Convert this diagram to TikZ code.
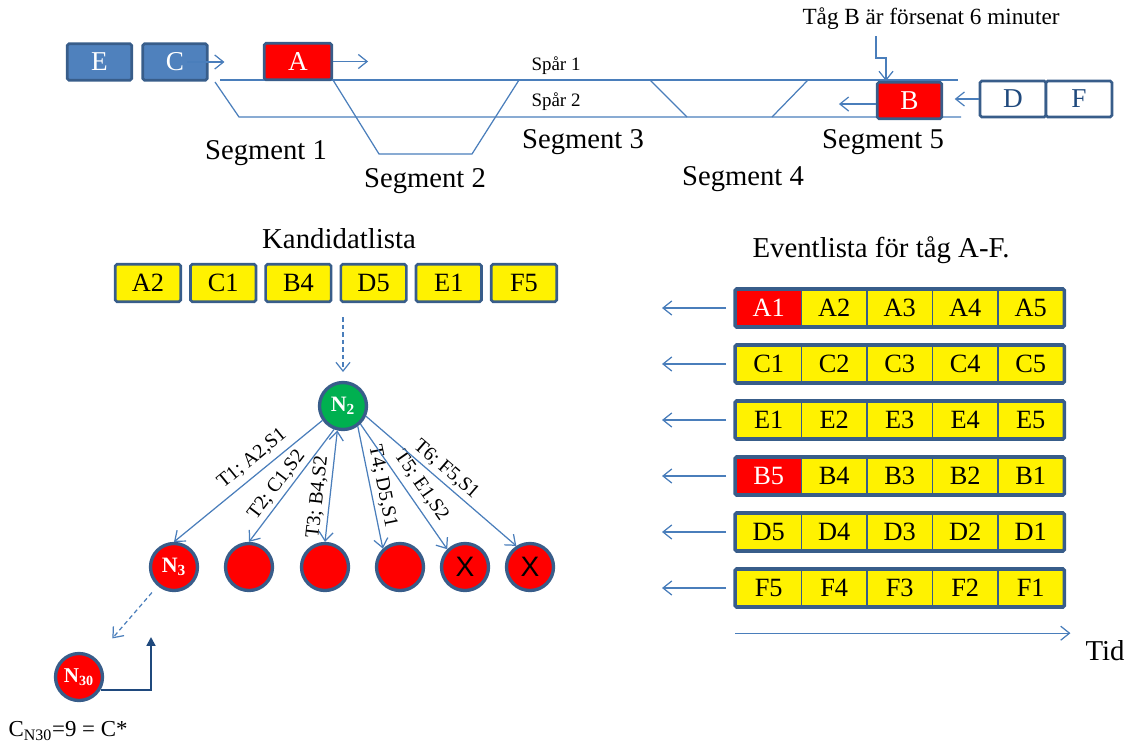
\documentclass[tikz,border=0pt]{standalone}
\usepackage{fontspec}
\setmainfont{Liberation Serif}
\setsansfont{Liberation Sans}
\usepackage{xcolor}
\usetikzlibrary{arrows.meta, positioning, calc}
\definecolor{trackblue}{HTML}{4A7EBB}
\definecolor{rimblue}{HTML}{385D8A}
\definecolor{boxblue}{HTML}{4F81BD}
\definecolor{navyblue}{HTML}{1F497D}
\definecolor{nodegreen}{HTML}{00B050}

\begin{document}
\begin{tikzpicture}[x=0.02cm, y=-0.02cm,
  >={Straight Barb[length=5pt,width=8pt]},
  track/.style={trackblue, line width=0.7pt},
  dashline/.style={track, dash pattern=on 2.5pt off 1.8pt},
  title/.style={font=\rmfamily\fontsize{16.4}{19}\selectfont},
  seg/.style={font=\rmfamily\fontsize{16.3}{19}\selectfont},
  train/.style={draw=rimblue, line width=1.5pt, rounded corners=1pt,
    minimum width=1.29cm, minimum height=0.73cm, inner sep=0pt,
    font=\rmfamily\fontsize{15.5}{18}\selectfont},
  cand/.style={draw=rimblue, fill=yellow, line width=1.5pt, rounded corners=1pt,
    minimum width=1.31cm, minimum height=0.75cm, inner sep=0pt,
    font=\rmfamily\fontsize{15}{17}\selectfont},
  ev/.style={draw=rimblue, fill=yellow, line width=1.1pt,
    minimum width=1.31cm, minimum height=0.73cm, inner sep=0pt,
    font=\rmfamily\fontsize{15}{17}\selectfont},
  late/.style={ev, fill=red, text=white},
  tnode/.style={circle, draw=rimblue, line width=1.9pt, minimum size=0.94cm,
    inner sep=0pt, text=white, font=\rmfamily\fontsize{12.5}{14}\selectfont\bfseries},
  cross/.style={tnode, text=black, font=\sffamily\fontsize{16}{18}\selectfont},
  elabel/.style={sloped, above, inner sep=2pt, text=black,
    font=\rmfamily\fontsize{11.3}{13}\selectfont}
]
  \useasboundingbox (0,0) rectangle (1129,747);

  % Tracks
  \draw[track] (220,80) -- (958,80);
  \draw[track] (215,82) -- (239,117) -- (961,117);
  \draw[track] (333,80) -- (379,154) -- (472,154) -- (519,80);
  \draw[track] (650,80) -- (687,117);
  \draw[track] (808,80) -- (772,117);
  \node[font=\fontsize{10.8}{12}\selectfont] (spar1) at (556,66) {Spår 1};
  \node[font=\fontsize{10.8}{12}\selectfont] (spar2) at (556,102) {Spår 2};

  % Trains
  \node[train, fill=boxblue, text=white] (E) at (99.5,62) {E};
  \node[train, fill=boxblue, text=white] (C) at (175,62) {C};
  \node[train, fill=red, text=white, minimum width=1.35cm] (A) at (298,61.5) {A};
  \node[train, fill=red, text=white] (B) at (909.5,100.5) {B};
  \node[train, fill=white, text=navyblue, minimum width=1.32cm,
    minimum height=0.72cm] (D) at (1013,99) {D};
  \node[train, fill=white, text=navyblue, minimum width=1.32cm,
    minimum height=0.72cm, right=-1.5pt of D] (F) {F};
  \draw[track, ->] ([xshift=-12pt]C.east) -- ++(37,0);
  \draw[track, ->] (A.east) -- ++(35,0);
  \draw[track, ->] ([yshift=-2pt]B.west) -- ++(-37,0);
  \draw[track, ->] (D.west) -- ++(-24,0);

  % Segments
  \node[seg] (seg1) at (266,153) {Segment 1};
  \node[seg] (seg2) at (425,181) {Segment 2};
  \node[seg] (seg3) at (583,142) {Segment 3};
  \node[seg] (seg4) at (743,179) {Segment 4};
  \node[seg] (seg5) at (883,142) {Segment 5};

  % Delay note
  \node[font=\fontsize{13.2}{15}\selectfont] (delay) at (931,19)
    {Tåg B är försenat 6 minuter};
  \coordinate (bin) at (886,81);
  \draw[track, ->] (delay.south -| B.west) |- ($(bin)+(0,-23)$) -- (bin);

  % Candidate list
  \node[title] (kand) at (339,239) {Kandidatlista};
  \foreach \lab [count=\i] in {A2,C1,B4,D5,E1,F5}
    \node[cand] (cand-\i) at ({148+75.2*(\i-1)},283) {\lab};

  % Search tree
  \node[tnode, fill=nodegreen] (n2) at (343,406) {N\textsubscript{2}};
  \draw[dashline, ->, shorten <=8pt, shorten >=5pt]
    (cand-4.south -| n2.north) -- (n2.north);
  \node[tnode, fill=red] (c1) at (174,567) {N\textsubscript{3}};
  \node[tnode, fill=red] (c2) at (249,567) {};
  \node[tnode, fill=red] (c3) at (325,567) {};
  \node[tnode, fill=red] (c4) at (400,567) {};
  \node[cross, fill=red] (c5) at (465,567) {X};
  \node[cross, fill=red] (c6) at (530,567) {X};

  \draw[track, ->] (n2.215) -- (c1.north)
    node[elabel, pos=0.41, inner sep=3.5pt] {T1; A2,S1};
  \draw[track, ->] (n2.249) -- (c2.north)
    node[elabel, pos=0.56] {T2; C1,S2};
  \draw[track, <->] (n2.257) -- (c3.north)
    node[elabel, pos=0.61] {T3; B4,S2};
  \draw[track, ->] (n2.306) -- (c4.133)
    node[elabel, pos=0.51] {T4; D5,S1};
  \draw[track, ->] (n2.314) -- (c5.135)
    node[elabel, pos=0.56, inner sep=3.5pt] {T5; E1,S2};
  \draw[track, ->] (n2.336) -- (c6.123)
    node[elabel, pos=0.48] {T6; F5,S1};

  % Best solution
  \node[tnode, fill=red, font=\rmfamily\fontsize{12}{14}\selectfont\bfseries]
    (n30) at (79,677) {N\textsubscript{30}};
  \draw[dashline, ->, shorten <=4.9pt, shorten >=14.7pt] (c1) -- (n30);
  \coordinate (best) at (151,637);
  \draw[navyblue, line width=1.1pt, -{Triangle[length=5pt,width=5pt]}]
    (n30.-30) -| (best);
  \node[font=\rmfamily\fontsize{13}{15}\selectfont] (cost) at (68,731)
    {C\textsubscript{N30}=9 = C*};

  % Event list
  \node[title] (evlist) at (881,250) {Eventlista för tåg A-F.};
  \foreach \row [count=\i] in {
      {A1/late,A2/ev,A3/ev,A4/ev,A5/ev},
      {C1/ev,C2/ev,C3/ev,C4/ev,C5/ev},
      {E1/ev,E2/ev,E3/ev,E4/ev,E5/ev},
      {B5/late,B4/ev,B3/ev,B2/ev,B1/ev},
      {D5/ev,D4/ev,D3/ev,D2/ev,D1/ev},
      {F5/ev,F4/ev,F3/ev,F2/ev,F1/ev}} {
    \foreach \lab/\sty [count=\j] in \row
      \node[\sty] (ev-\i-\j) at ({736+65.5*(\j-0.5)},{308+56*(\i-1)}) {\lab};
    \draw[rimblue, line width=2pt, rounded corners=1pt]
      (ev-\i-1.north west) rectangle (ev-\i-5.south east);
    \draw[track, ->] (ev-\i-1.west) ++(-9,0) -- ++(-64,0);
  }

  % Time axis
  \draw[track, ->] ($(ev-6-1.south west)+(0,26)$)
    -- ($(ev-6-5.south east)+(6,26)$);
  \node[title] (tid) at (1105,651) {Tid};
\end{tikzpicture}
\end{document}
